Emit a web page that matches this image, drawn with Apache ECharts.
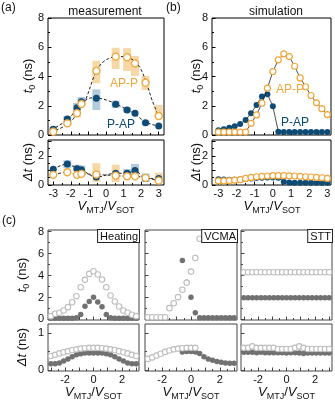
<!DOCTYPE html>
<html><head><meta charset="utf-8">
<script src="https://cdn.jsdelivr.net/npm/echarts@6/dist/echarts.min.js"></script>
<style>html,body{margin:0;padding:0;background:#fff}#c{width:335px;height:402px}</style>
</head><body><div id="c"></div>
<script>
// ---------- DATA ----------
// (a) measurement
const xMeas       = [-3, -2.2, -1.65, -1.4, -0.55, 0.55, 1.2, 1.65, 2.25, 3];
const measT0AP    = [0.23, 0.8, 1.49, 2.12, 4.38, 5.36, 5.32, 4.9, 3.58, 1.3];
const measT0PAP   = [0.39, 1.1, 1.87, 2.28, 2.51, 2.1, 1.71, 1.48, 0.84, 0.62];
const measDtAP    = [0.7, 0.88, 0.7, 0.77, 0.72, 0.65, 0.6, 0.6, 0.49, 0.3];
const measDtPAP   = [1.09, 1.45, 1.12, 1.05, 0.55, 0.81, 0.81, 1.0, 0.45, 0.44];
// shaded uncertainty boxes: [x, low, high]
const measBoxT0AP  = [[-2.2,0.62,0.98],[-1.65,1.2,1.8],[-0.55,3.54,5.08],[0.55,4.51,5.97],[1.2,4.38,5.94],[1.65,4.04,5.4],[2.25,3.08,4.04],[3,1.14,2.05]];
const measBoxT0PAP = [[-3,0.22,0.58],[-2.2,0.85,1.3],[-1.65,1.6,2.2],[-1.4,2.0,2.6],[-0.55,1.71,3.12],[0.55,1.85,2.35],[1.2,1.55,1.9],[2.25,0.68,1.0]];
const measBoxDtAP  = [[-0.55,0.2,1.5],[0.55,0.2,1.4],[3,0.15,0.85]];
const measBoxDtPAP = [[-2.2,1.15,1.7],[-1.65,0.95,1.4],[-1.4,0.9,1.35],[1.2,0.7,1.1],[1.65,0.6,1.45],[2.25,0.2,0.8]];
// dashed guide curves
const fitT0APx  = [-3.12,-2.17,-1.59,-1.21,-1.02,-0.76,-0.53,-0.25,0.14,0.61,1.09,1.47,1.76,2.05,2.34,2.62,3.0];
const fitT0APy  = [0.18,0.75,1.53,2.28,2.85,3.76,4.4,4.9,5.22,5.36,5.36,5.18,4.9,4.33,3.42,2.39,1.25];
const fitT0PAPx = [-3.12,-2.17,-1.59,-1.15,-0.74,-0.36,0.14,0.61,1.17,1.64,2.21,2.92];
const fitT0PAPy = [0.34,1.07,1.89,2.39,2.55,2.51,2.34,2.1,1.76,1.44,0.91,0.62];

// (b) simulation
const xSim     = [-3,-2.7,-2.4,-2.1,-1.8,-1.5,-1.2,-0.9,-0.6,-0.3,0,0.3,0.6,0.9,1.2,1.5,1.8,2.1,2.4,2.7,3];
const simT0AP  = [0.2,0.2,0.2,0.2,0.2,0.2,0.8,1.37,2.17,3.2,4.34,5.14,5.55,5.36,4.7,3.9,3.3,2.7,2.2,1.8,1.4];
const simT0PAP = [0.33,0.4,0.5,0.6,0.75,1.03,1.48,2.05,2.64,2.78,1.96,0.23,0.2,0.2,0.2,0.2,0.2,0.2,0.2,0.2,0.2];
const simDtAP  = [0.28,0.28,0.3,0.33,0.37,0.45,0.52,0.57,0.6,0.62,0.64,0.64,0.64,0.63,0.62,0.6,0.57,0.55,0.52,0.5,0.45];
const simDtPAP = [0.4,0.38,0.36,0.36,0.38,0.42,0.45,0.48,0.5,0.52,0.52,0.5,0.22,0.17,0.16,0.16,0.16,0.16,0.16,0.16,0.16];

// (c) mechanisms
const xC          = [-3,-2.7,-2.4,-2.1,-1.8,-1.5,-1.2,-0.9,-0.6,-0.3,0,0.3,0.6,0.9,1.2,1.5,1.8,2.1,2.4,2.7,3];
const heatT0Open  = [0.3,0.52,0.61,0.82,1.12,1.57,2.12,2.94,3.61,4.15,4.39,4.09,3.64,2.94,2.18,1.64,1.18,0.82,0.61,0.43,0.3];
const heatT0Fill  = [0.12,0.12,0.12,0.12,0.12,0.12,0.15,0.45,1.2,1.64,2.03,1.6,1.15,0.45,0.15,0.12,0.12,0.12,0.12,0.12,0.12];
const heatDtOpen  = [0.38,0.41,0.45,0.48,0.51,0.54,0.56,0.58,0.59,0.6,0.6,0.6,0.59,0.58,0.56,0.54,0.51,0.48,0.45,0.41,0.38];
const heatDtFill  = [0.17,0.17,0.19,0.24,0.3,0.36,0.41,0.44,0.46,0.46,0.46,0.46,0.46,0.44,0.41,0.36,0.3,0.24,0.19,0.17,0.17];
const xVcmaT0Open = [-3,-2.7,-2.4,-2.1,-1.8,-1.5,-1.2,-0.9,-0.6,-0.3,0,0.3,0.6];
const vcmaT0Open  = [0.2,0.2,0.2,0.2,0.2,1.03,1.48,2.03,2.7,3.34,4.36,5.6,7.35];
const xVcmaFill   = [-0.6,-0.3,0,0.3,0.6,0.9,1.2,1.5,1.8,2.1,2.4,2.7,3];
const vcmaT0Fill  = [5.36,3.4,2.03,0.61,0.15,0.15,0.15,0.15,0.15,0.15,0.15,0.15,0.15];
const xVcmaDtOpen = [-3,-2.7,-2.4,-2.1,-1.8,-1.5,-1.2,-0.9,-0.6,-0.3,0,0.3];
const vcmaDtOpen  = [0.3,0.34,0.39,0.44,0.49,0.53,0.56,0.58,0.59,0.6,0.6,0.6];
const vcmaDtFill  = [0.49,0.5,0.5,0.49,0.45,0.36,0.3,0.26,0.23,0.21,0.19,0.18,0.18];
const sttT0Open   = [4.3,4.3,4.3,4.3,4.3,4.3,4.3,4.3,4.3,4.3,4.3,4.3,4.3,4.3,4.3,4.3,4.3,4.3,4.3,4.3,4.3];
const sttT0Fill   = [1.97,1.97,1.97,1.97,1.97,1.97,1.97,1.97,1.97,1.97,1.97,1.97,1.97,1.97,1.97,1.97,1.97,1.97,1.97,1.97,1.97];
const sttDtOpen   = [0.6,0.6,0.64,0.6,0.6,0.6,0.6,0.6,0.57,0.57,0.57,0.57,0.6,0.64,0.6,0.57,0.57,0.57,0.57,0.57,0.57];
const sttDtFill   = [0.48,0.48,0.48,0.47,0.48,0.47,0.47,0.47,0.47,0.47,0.46,0.47,0.47,0.46,0.45,0.46,0.46,0.46,0.46,0.46,0.46];

// tick values
const xMajor   = [-3,-2,-1,0,1,2,3];
const xMinor   = [-3.5,-2.5,-1.5,-0.5,0.5,1.5,2.5,3.5];
const xLabAB   = [-3,-2,-1,0,1,2,3];
const xLabC    = [-2,0,2];
const yT0Major = [0,2,4,6,8];
const yT0Minor = [1,3,5,7];
const yT0Lab   = [0,2,4,6,8];
const yDtMajor = [0,1,2,3];
const yDtMinor = [0.5,1.5,2.5];
const yDtLab   = [0,2];
const yDtCMajor = [0,1];
const yDtCMinor = [0.5];
const yDtCLab  = [0,1];

// ---------- STYLE ----------
const FF = "'Liberation Sans', Arial, Helvetica, sans-serif";
const ORANGE = '#EFA63A', BLUE = '#0E4B75';
const ORANGE_BOX = '#F6D8A6', BLUE_BOX = '#B4CBDD';
const GRAY_OPEN = '#BDBDBD', GRAY_FILL = '#717171';

const grids = [], xAxes = [], yAxes = [], series = [], graphics = [];
const zip = (xs, ys) => xs.map((x, i) => [x, ys[i]]);

function axisDef(dim, gi, r, ticks, labels, len, col) {
  return {
    type: 'value', gridIndex: gi, min: r[0], max: r[1], position: dim === 'x' ? 'bottom' : 'left',
    axisLine: {show: false, onZero: false}, splitLine: {show: false},
    axisTick: {show: !!(ticks && ticks.length), inside: true, length: len, customValues: ticks || [], lineStyle: {color: col, width: 1}},
    axisLabel: {show: !!labels, customValues: labels || [], fontSize: 11, fontFamily: FF, color: '#111', margin: dim === 'x' ? 3 : 4, formatter: v => String(v)}
  };
}
function panel(rect, xr, yr, o) {
  const gi = grids.length;
  const col = o.border || '#000';
  grids.push({left: rect[0], top: rect[1], width: rect[2] - rect[0], height: rect[3] - rect[1], show: true,
    borderColor: col, borderWidth: 1, backgroundColor: 'rgba(0,0,0,0)'});
  const xi = xAxes.length, yi = yAxes.length;
  xAxes.push(axisDef('x', gi, xr, o.xMajor, o.xLabels, 3.5, col));
  xAxes.push(axisDef('x', gi, xr, o.xMinor, null, 2, col));
  yAxes.push(axisDef('y', gi, yr, o.yMajor, o.yLabels, 3.5, col));
  yAxes.push(axisDef('y', gi, yr, o.yMinor, null, 2, col));
  return {xAxisIndex: xi, yAxisIndex: yi};
}
function pts(ax, xs, ys, st) {
  series.push(Object.assign({type: 'scatter', data: zip(xs, ys), symbol: 'circle', symbolSize: st.size,
    itemStyle: {color: st.fill, borderColor: st.stroke || st.fill, borderWidth: st.bw || 0, opacity: 1},
    z: st.z || 3, silent: true, animation: false}, ax));
}
function line(ax, xs, ys, st) {
  const s = Object.assign({type: 'line', data: zip(xs, ys), smooth: st.smooth || false,
    showSymbol: !!st.size, symbol: 'circle', symbolSize: st.size || 0,
    itemStyle: {color: st.fill || '#000', borderColor: st.stroke || st.fill || '#000', borderWidth: st.bw || 0},
    lineStyle: {color: st.color || '#000', width: st.width || 1, type: st.dash ? [3, 2] : 'solid'},
    z: st.z || 2, silent: true, animation: false}, ax);
  series.push(s);
}
function boxes(ax, data, color) {
  series.push(Object.assign({type: 'custom', data: data, z: 1, silent: true, animation: false,
    renderItem: function (params, api) {
      const x = api.value(0), lo = api.value(1), hi = api.value(2);
      const p1 = api.coord([x, lo]), p2 = api.coord([x, hi]);
      const w = api.size([0.45, 0])[0];
      return {type: 'rect', shape: {x: p1[0] - w / 2, y: p2[1], width: w, height: p1[1] - p2[1]}, style: {fill: color}};
    }}, ax));
}
function txt(text, x, y, o) {
  o = o || {};
  graphics.push({type: 'text', x: x, y: y, rotation: o.rot ? Math.PI / 2 : 0, z: 100, silent: true,
    style: {text: text, fontSize: o.size || 13, fontFamily: FF, fill: o.color || '#111',
      align: o.align || 'center', verticalAlign: o.valign || 'middle', lineHeight: o.lh,
      backgroundColor: o.bg, borderColor: o.bc, borderWidth: o.bw, padding: o.pad,
      rich: {
        i: {fontStyle: 'italic', fontSize: 13, fontFamily: FF, fill: '#111', lineHeight: 18},
        n: {fontSize: 13, fontFamily: FF, fill: '#111', lineHeight: 18},
        s: {fontSize: 9, fontFamily: FF, fill: '#111', verticalAlign: 'bottom', lineHeight: 11}
      }}});
}

// ---------- PANELS ----------
const xrA = [-3.3, 3.3], xrB = [-3.35, 3.2], xrC = [-3.2, 3.2];
const topOpts = {xMajor, xMinor, yMajor: yT0Major, yMinor: yT0Minor, yLabels: yT0Lab};
const botOpts = {xMajor, xMinor, xLabels: xLabAB, yMajor: yDtMajor, yMinor: yDtMinor, yLabels: yDtLab};

const aTop = panel([48, 18, 164, 135], xrA, [0, 8], topOpts);
const aBot = panel([48, 140, 164, 185], xrA, [0, 3.1], botOpts);
const bTop = panel([212, 18, 331, 135], xrB, [0, 8], topOpts);
const bBot = panel([212, 140, 331, 185], xrB, [0, 3.1], botOpts);

const cCols = [[48, 139], [145, 237], [241, 332]];
const CB = '#444';
const cTop = cCols.map((c, k) => panel([c[0], 230, c[1], 320], xrC, [-0.05, 8.15],
  {border: CB, xMajor, xMinor, yMajor: yT0Major, yMinor: yT0Minor, yLabels: k === 0 ? yT0Lab : null}));
const cBot = cCols.map((c, k) => panel([c[0], 324, c[1], 371], xrC, [-0.03, 1.25],
  {border: CB, xMajor, xMinor, xLabels: xLabC, yMajor: yDtCMajor, yMinor: yDtCMinor, yLabels: k === 0 ? yDtCLab : null}));

// (a) measurement
boxes(aTop, measBoxT0AP, ORANGE_BOX);
boxes(aTop, measBoxT0PAP, BLUE_BOX);
line(aTop, fitT0APx, fitT0APy, {smooth: 0.35, dash: true, width: 1, color: '#222'});
line(aTop, fitT0PAPx, fitT0PAPy, {smooth: 0.35, dash: true, width: 1, color: '#222'});
pts(aTop, xMeas, measT0PAP, {size: 7, fill: BLUE, z: 4});
pts(aTop, xMeas, measT0AP, {size: 7, fill: '#fff', stroke: ORANGE, bw: 1.3, z: 5});
boxes(aBot, measBoxDtAP, ORANGE_BOX);
boxes(aBot, measBoxDtPAP, BLUE_BOX);
line(aBot, xMeas, measDtPAP, {smooth: 0.35, dash: true, width: 1, color: '#222'});
line(aBot, xMeas, measDtAP, {smooth: 0.35, dash: true, width: 1, color: '#222'});
pts(aBot, xMeas, measDtPAP, {size: 7, fill: BLUE, z: 4});
pts(aBot, xMeas, measDtAP, {size: 7, fill: '#fff', stroke: ORANGE, bw: 1.3, z: 5});

// (b) simulation
line(bTop, xSim, simT0PAP, {size: 6, fill: BLUE, width: 0.8, color: '#222', z: 3});
line(bTop, xSim, simT0AP, {size: 6, fill: '#fff', stroke: ORANGE, bw: 1.2, width: 0.8, color: '#222', z: 4});
line(bBot, xSim, simDtPAP, {size: 6, fill: BLUE, width: 0.8, color: '#222', z: 3});
line(bBot, xSim, simDtAP, {size: 6, fill: '#fff', stroke: ORANGE, bw: 1.2, width: 0.8, color: '#222', z: 4});

// (c) heating / VCMA / STT
const dark = {size: 5.5, fill: GRAY_FILL, z: 3};
const open = {size: 5.5, fill: '#fff', stroke: GRAY_OPEN, bw: 1.1, z: 4};
pts(cTop[0], xC, heatT0Fill, dark); pts(cTop[0], xC, heatT0Open, open);
pts(cBot[0], xC, heatDtFill, dark); pts(cBot[0], xC, heatDtOpen, open);
pts(cTop[1], xVcmaFill, vcmaT0Fill, dark); pts(cTop[1], xVcmaT0Open, vcmaT0Open, open);
pts(cBot[1], xVcmaFill, vcmaDtFill, dark); pts(cBot[1], xVcmaDtOpen, vcmaDtOpen, open);
pts(cTop[2], xC, sttT0Fill, dark); pts(cTop[2], xC, sttT0Open, open);
pts(cBot[2], xC, sttDtFill, dark); pts(cBot[2], xC, sttDtOpen, open);

// ---------- TEXT ----------
txt('(a)', 1, 8, {size: 12, align: 'left'});
txt('(b)', 166, 8, {size: 12, align: 'left'});
txt('(c)', 2, 221, {size: 12, align: 'left'});
txt('measurement', 105, 12, {size: 12});
txt('simulation', 276, 12, {size: 12});
txt('AP-P', 124, 84, {size: 12, color: ORANGE});
txt('P-AP', 121, 125, {size: 12, color: BLUE});
txt('AP-P', 290, 90, {size: 12, color: ORANGE});
txt('P-AP', 295, 123, {size: 12, color: BLUE});

const t0Title = '{i|t}{s|0}{n| (ns)}';
const dtTitle = '{i|Δt}{n| (ns)}';
const vTitle = '{i|V}{s|MTJ}{n|/}{i|V}{s|SOT}';
txt(t0Title, 28, 76, {rot: true});
txt(dtTitle, 28, 162, {rot: true});
txt(t0Title, 196, 76, {rot: true});
txt(dtTitle, 196, 162, {rot: true});
txt(t0Title, 22, 275, {rot: true});
txt(dtTitle, 22, 347, {rot: true});
txt(vTitle, 106, 206);
txt(vTitle, 272, 206);
cCols.forEach(c => txt(vTitle, (c[0] + c[1]) / 2, 392));

// mechanism tags
const tags = ['Heating', 'VCMA', 'STT'];
cCols.forEach((c, k) => txt(tags[k], c[1], 230, {size: 11, align: 'right', valign: 'top', bg: '#fff', bc: '#222', bw: 1, pad: [1, 1, 0, 2]}));

const chart = echarts.init(document.getElementById('c'), null, {renderer: 'canvas'});
chart.setOption({animation: false, backgroundColor: '#fff', grid: grids, xAxis: xAxes, yAxis: yAxes, series: series, graphic: graphics});
</script></body></html>
